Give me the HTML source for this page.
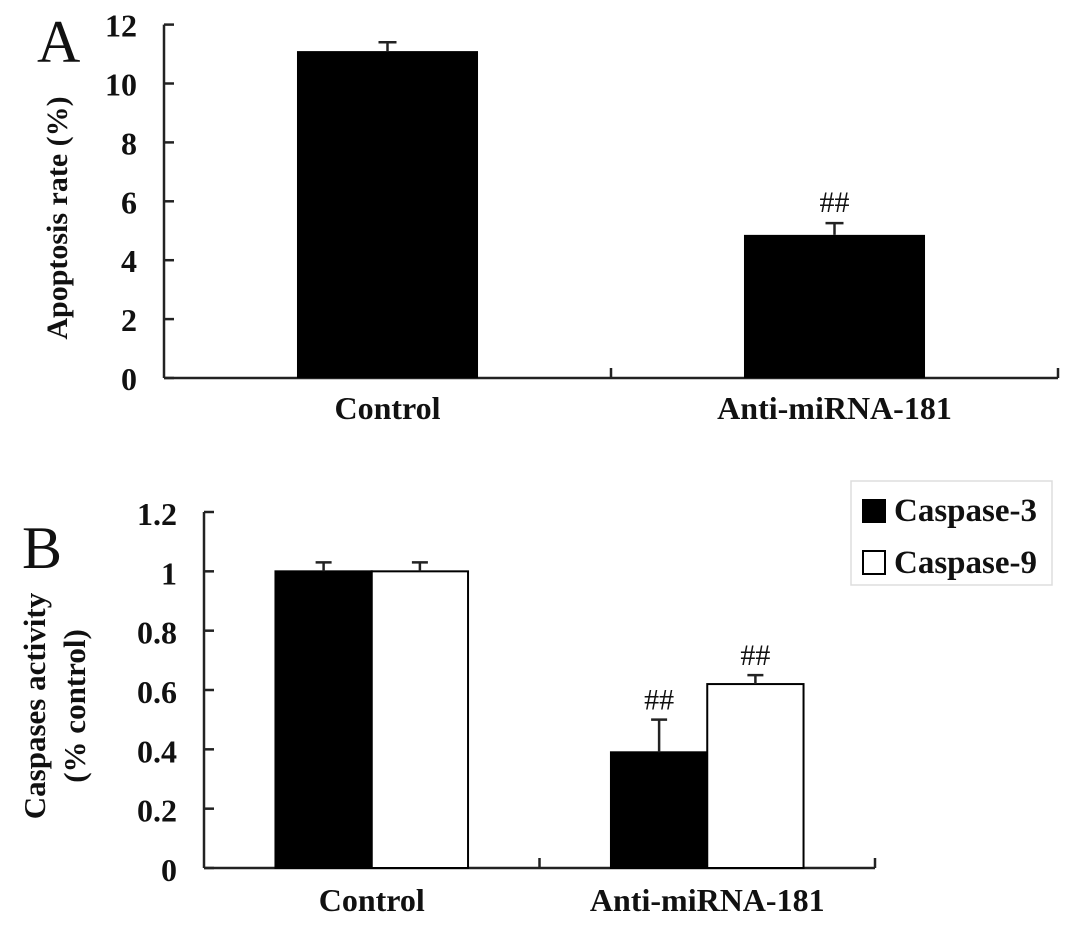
<!DOCTYPE html>
<html><head><meta charset="utf-8"><style>
body{margin:0;background:#fff;}
svg text{font-family:"Liberation Serif",serif;font-weight:bold;fill:#111;}
</style></head><body>
<svg id="s" width="1087" height="928" xmlns="http://www.w3.org/2000/svg">
<text x="37" y="62" font-size="60" style="font-weight:normal">A</text>
<text x="22" y="568" font-size="60" style="font-weight:normal">B</text>
<text transform="translate(67,218) rotate(-90)" text-anchor="middle" font-size="30">Apoptosis rate (%)</text>
<text transform="translate(45,706) rotate(-90)" text-anchor="middle" font-size="31">Caspases activity</text>
<text transform="translate(85,706) rotate(-90)" text-anchor="middle" font-size="31">(% control)</text>
<g id="ga"></g>
<g id="gb"></g>
<g>
<rect x="851" y="481" width="201" height="104" fill="#fff" stroke="#ddd" stroke-width="1.5"/>
<rect x="862" y="499" width="24" height="24" fill="#000"/>
<text x="894" y="521" font-size="33">Caspase-3</text>
<rect x="863" y="551" width="22" height="23" fill="#fff" stroke="#000" stroke-width="2"/>
<text x="894" y="573" font-size="33">Caspase-9</text>
</g>
</svg>
<script>
const aCategories=["Control","Anti-miRNA-181"];
const aValues=[11.1,4.86];
const aErrors=[0.3,0.4];
const aSig=["","##"];
const aTicks=[0,2,4,6,8,10,12];
const bCategories=["Control","Anti-miRNA-181"];
const bCasp3=[1.0,0.39];
const bCasp3Err=[0.03,0.11];
const bCasp9=[1.0,0.62];
const bCasp9Err=[0.03,0.03];
const bSig3=["","##"];
const bSig9=["","##"];
const bTicks=["0","0.2","0.4","0.6","0.8","1","1.2"];
const NS="http://www.w3.org/2000/svg";
function mk(p,t,at){const e=document.createElementNS(NS,t);for(const k in at)e.setAttribute(k,at[k]);p.appendChild(e);return e;}
function line(p,x1,y1,x2,y2,name){const l=mk(p,'line',{x1,y1,x2,y2,stroke:'#222','stroke-width':2.5});

return l;}
function txt(p,x,y,s,size,anchor,name,normal){const t=mk(p,'text',{x,y,'font-size':size,'text-anchor':anchor});t.textContent=s;
if(normal)t.style.fontWeight='normal';

return t;}
// Panel A
(function(){
const g=document.getElementById('ga');
const x0=164,x1=1058,y0=378,yTop=24.6,max=12;
const y=v=>y0-(v/max)*(y0-yTop);
const gw=(x1-x0)/aCategories.length;
line(g,x0,y0,x1,y0,'panel-a-x-axis');
line(g,x0,y(max),x0,y0,'panel-a-y-axis');
aTicks.forEach(v=>{line(g,x0,y(v),x0+10,y(v),'panel-a-y-tick');txt(g,137,y(v)+12,String(v),32,'end','panel-a-y-tick-label');});
for(let i=1;i<=aCategories.length;i++){const xx=x0+gw*i;line(g,xx,y0,xx,y0-10,'panel-a-x-tick');}
aCategories.forEach((c,i)=>{
const cx=x0+gw*(i+0.5),bw=gw*0.405;
const r=mk(g,'rect',{x:cx-bw/2,y:y(aValues[i]),width:bw,height:y0-y(aValues[i]),fill:'#000'});


const et=y(aValues[i]+aErrors[i]);
line(g,cx,y(aValues[i]),cx,et,'panel-a-error-bar');line(g,cx-9,et,cx+9,et,'panel-a-error-cap');
if(aSig[i])txt(g,cx,et-11,aSig[i],30,'middle','panel-a-significance-mark',true);
txt(g,cx,y0+41,c,32,'middle','panel-a-x-label');
});
})();
// Panel B
(function(){
const g=document.getElementById('gb');
const x0=204,x1=875,y0=868,yTop=512,max=1.2;
const y=v=>y0-(v/max)*(y0-yTop);
const gw=(x1-x0)/bCategories.length;
line(g,x0,y0,x1,y0,'panel-b-x-axis');
line(g,x0,y(max),x0,y0,'panel-b-y-axis');
bTicks.forEach(s=>{const v=parseFloat(s);line(g,x0,y(v),x0+10,y(v),'panel-b-y-tick');txt(g,177,y(v)+13,s,32,'end','panel-b-y-tick-label');});
for(let i=1;i<=bCategories.length;i++){const xx=x0+gw*i;line(g,xx,y0,xx,y0-10,'panel-b-x-tick');}
bCategories.forEach((c,i)=>{
const cx=x0+gw*(i+0.5),bw=gw*0.287;
[[bCasp3,bCasp3Err,bSig3,'#000','caspase-3',cx-bw],[bCasp9,bCasp9Err,bSig9,'#fff','caspase-9',cx]].forEach(([vals,errs,sig,fill,nm,bx])=>{
const r=mk(g,'rect',{x:bx,y:y(vals[i]),width:bw,height:y0-y(vals[i]),fill,stroke:'#000','stroke-width':2});


const mx=bx+bw/2,et=y(vals[i]+errs[i]);
line(g,mx,y(vals[i]),mx,et,'panel-b-error-bar');line(g,mx-8,et,mx+8,et,'panel-b-error-cap');
if(sig[i])txt(g,mx,et-10,sig[i],30,'middle','panel-b-significance-mark',true);
});
txt(g,cx,y0+43,c,32,'middle','panel-b-x-label');
});
})();
</script>
</body></html>
